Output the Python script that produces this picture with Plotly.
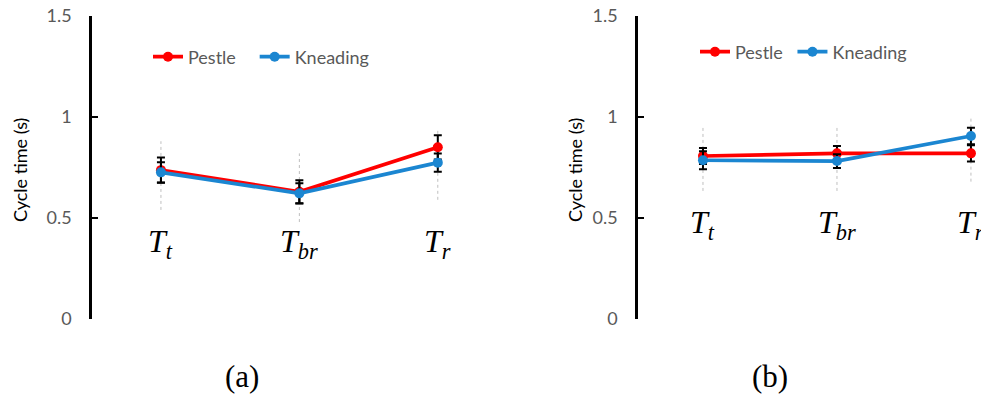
import plotly.graph_objects as go

categories = [0, 1, 2]
cat_labels = ["<i>T<sub>t</sub></i>", "<i>T<sub>br</sub></i>", "<i>T<sub>r</sub></i>"]
series_names = ["Pestle", "Kneading"]

# Panel (a)
a_pestle = [0.737, 0.630, 0.850]
a_pestle_err = [0.062, 0.057, 0.060]
a_knead = [0.726, 0.622, 0.774]
a_knead_err = [0.050, 0.050, 0.045]
a_range_low = [0.54, 0.48, 0.59]
a_range_high = [0.88, 0.82, 0.935]

# Panel (b)
b_pestle = [0.807, 0.820, 0.820]
b_pestle_err = [0.040, 0.036, 0.040]
b_knead = [0.786, 0.782, 0.906]
b_knead_err = [0.045, 0.034, 0.041]
b_range_low = [0.634, 0.634, 0.68]
b_range_high = [0.947, 0.947, 0.997]

y_ticks = [0, 0.5, 1, 1.5]
RED = "#FF0000"
BLUE = "#1B86D1"
W, H = 981, 402

fig = go.Figure()

def add_panel(xa, ya, pest, pest_err, kn, kn_err, lo, hi, legend, pad):
    xs, ys = [], []
    for c, l, h in zip(categories, lo, hi):
        xs += [c, c, None]
        ys += [l, h, None]
    fig.add_trace(go.Scatter(x=xs, y=ys, mode="lines", xaxis=xa, yaxis=ya,
                             line=dict(color="#BFBFBF", width=1, dash="dot"),
                             showlegend=False, hoverinfo="skip"))
    fig.add_trace(go.Scatter(x=categories, y=pest, mode="lines+markers",
                             name=series_names[0] + "\u00a0" * pad,
                             xaxis=xa, yaxis=ya, legend=legend, cliponaxis=False,
                             line=dict(color=RED, width=3.7), marker=dict(color=RED, size=10),
                             error_y=dict(type="data", array=pest_err, color="black",
                                          thickness=2, width=4)))
    fig.add_trace(go.Scatter(x=categories, y=kn, mode="lines+markers", name=series_names[1],
                             xaxis=xa, yaxis=ya, legend=legend, cliponaxis=False,
                             line=dict(color=BLUE, width=3.7), marker=dict(color=BLUE, size=10),
                             error_y=dict(type="data", array=kn_err, color="black",
                                          thickness=2, width=4)))

add_panel("x", "y", a_pestle, a_pestle_err, a_knead, a_knead_err, a_range_low, a_range_high, "legend", 3)
add_panel("x2", "y2", b_pestle, b_pestle_err, b_knead, b_knead_err, b_range_low, b_range_high, "legend2", 1)

ydom = [(H - 319) / H, (H - 16) / H]
yax = dict(range=[0, 1.5], tickvals=y_ticks, ticktext=["0", "0.5", "1", "1.5"],
           showgrid=False, zeroline=False, showline=True, linecolor="black", linewidth=2.5,
           ticks="inside", ticklen=6, tickwidth=2, tickcolor="black",
           ticklabelstandoff=14, automargin=False,
           tickfont=dict(family="Lato", size=18, color="#595959"), domain=ydom)
xax = dict(showgrid=False, zeroline=False, showline=False, showticklabels=False, ticks="",
           automargin=False)

fig.update_layout(
    width=W, height=H, margin=dict(l=0, r=0, t=0, b=0, autoexpand=False),
    paper_bgcolor="white", plot_bgcolor="white",
    xaxis=dict(xax, domain=[92 / W, 507 / W], range=[-0.498, 2.5]),
    yaxis=dict(yax, anchor="x"),
    xaxis2=dict(xax, domain=[638 / W, 1.0], range=[-0.485, 2.075]),
    yaxis2=dict(yax, anchor="x2"),
    legend=dict(orientation="h", x=148 / W, y=1 - 57 / H, xanchor="left", yanchor="middle",
                font=dict(family="Lato", size=18, color="#595959"), bgcolor="rgba(0,0,0,0)"),
    legend2=dict(orientation="h", x=695 / W, y=1 - 52 / H, xanchor="left", yanchor="middle",
                 font=dict(family="Lato", size=18, color="#595959"), bgcolor="rgba(0,0,0,0)"),
    showlegend=True,
)

# axis titles
for xpix in [20, 575]:
    fig.add_annotation(x=xpix / W, y=1 - 170 / H, xref="paper", yref="paper",
                       xanchor="center", yanchor="middle",
                       text="Cycle time (s)", textangle=-90, showarrow=False,
                       font=dict(family="Lato", size=18, color="black"))

# category labels
for c, lab in zip(categories, cat_labels):
    fig.add_annotation(x=c, y=0.376, xref="x", yref="y", text=lab, showarrow=False,
                       xanchor="center", yanchor="middle",
                       font=dict(family="Liberation Serif", size=32, color="black"))
    fig.add_annotation(x=c, y=0.47, xref="x2", yref="y2", text=lab, showarrow=False,
                       xanchor="center", yanchor="middle",
                       font=dict(family="Liberation Serif", size=32, color="black"))

# panel captions
fig.add_annotation(x=242 / W, y=1 - 376 / H, xref="paper", yref="paper", text="(a)",
                   xanchor="center", yanchor="middle",
                   showarrow=False, font=dict(family="Liberation Serif", size=31, color="black"))
fig.add_annotation(x=770 / W, y=1 - 376 / H, xref="paper", yref="paper", text="(b)",
                   xanchor="center", yanchor="middle",
                   showarrow=False, font=dict(family="Liberation Serif", size=31, color="black"))

fig.write_html("out.html")
